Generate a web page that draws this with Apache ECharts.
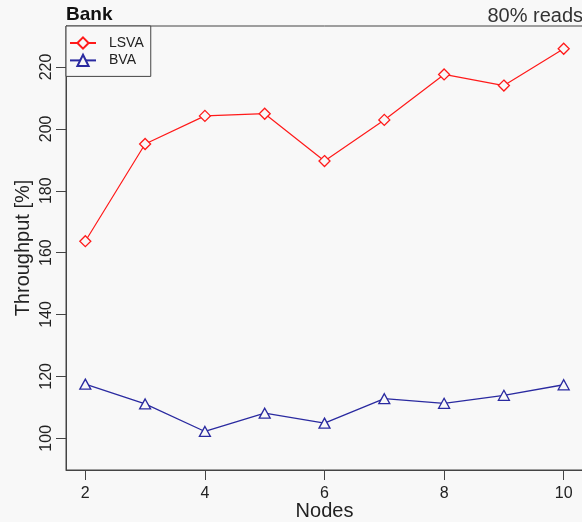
<!DOCTYPE html>
<html>
<head>
<meta charset="utf-8">
<script src="https://cdn.jsdelivr.net/npm/echarts@6/dist/echarts.min.js"></script>
<style>
  html, body { margin: 0; padding: 0; background: #f8f8f8; }
  #chart { width: 582px; height: 522px; }
</style>
</head>
<body>
<div id="chart"></div>
<script>
// Throughput relative to baseline, Bank benchmark, 80% reads
const nodes = [2, 3, 4, 5, 6, 7, 8, 9, 10];
const lsva = [163.7, 195.1, 204.2, 204.9, 189.6, 202.9, 217.6, 214.0, 225.9];
const bva = [117.5, 111.1, 102.2, 108.1, 104.9, 112.8, 111.3, 113.9, 117.3];
const xTicks = [2, 4, 6, 8, 10];
const yTicks = [100, 120, 140, 160, 180, 200, 220];

const FONT = "'Liberation Sans', Arial, Helvetica, sans-serif";
const RED = '#ff1a1a';
const BLUE = '#2a2aa0';
const BG = '#f8f8f8';

const pairs = (ys) => nodes.map((x, i) => [x, ys[i]]);

const chart = echarts.init(document.getElementById('chart'), null, { renderer: 'canvas' });
chart.setOption({
  backgroundColor: BG,
  animation: false,
  textStyle: { fontFamily: FONT },
  title: [
    { text: 'Bank', left: 66, top: 5, padding: 0,
      textStyle: { fontFamily: FONT, fontSize: 19, fontWeight: 'bold', color: '#111' } },
    { text: '80% reads', right: -1, top: 6, padding: 0,
      textStyle: { fontFamily: FONT, fontSize: 20, fontWeight: 'normal', color: '#333' } }
  ],
  legend: {
    orient: 'vertical',
    left: 66, top: 26,
    padding: [10, 7, 9, 3],
    itemWidth: 26, itemHeight: 14, itemGap: 3.4,
    backgroundColor: BG,
    borderColor: '#444', borderWidth: 1, borderRadius: 0,
    textStyle: { fontFamily: FONT, fontSize: 14, color: '#222', lineHeight: 14, padding: [0, 0, 0, 8] },
    data: ['LSVA', 'BVA']
  },
  grid: {
    left: 66, top: 26, width: 517, height: 444,
    outerBoundsMode: 'none', containLabel: false,
    show: true, borderColor: '#444', borderWidth: 1, backgroundColor: 'transparent'
  },
  xAxis: {
    type: 'value', min: 1.677, max: 10.323,
    name: 'Nodes', nameLocation: 'middle', nameGap: 31, nameMoveOverlap: false,
    nameTextStyle: { fontFamily: FONT, fontSize: 20, color: '#222' },
    axisLine: { show: true, lineStyle: { color: '#444', width: 1 } },
    axisTick: { show: true, length: 10, customValues: xTicks, lineStyle: { color: '#444' } },
    axisLabel: { customValues: xTicks, margin: 16, fontFamily: FONT, fontSize: 16, color: '#222' },
    splitLine: { show: false }
  },
  yAxis: {
    type: 'value', min: 89.75, max: 233.25,
    name: 'Throughput [%]', nameLocation: 'middle', nameGap: 33, nameRotate: 90, nameMoveOverlap: false,
    nameTextStyle: { fontFamily: FONT, fontSize: 20, color: '#222' },
    axisLine: { show: true, lineStyle: { color: '#444', width: 1 } },
    axisTick: { show: true, length: 10, customValues: yTicks, lineStyle: { color: '#444' } },
    axisLabel: { customValues: yTicks, rotate: 90, margin: 11, fontFamily: FONT, fontSize: 16, color: '#222' },
    splitLine: { show: false }
  },
  series: [
    {
      name: 'LSVA', type: 'line', data: pairs(lsva),
      color: RED,
      symbol: 'diamond', symbolSize: 11, showAllSymbol: true,
      lineStyle: { color: RED, width: 1.2 },
      itemStyle: { color: BG, borderColor: RED, borderWidth: 1.3 },
      z: 3
    },
    {
      name: 'BVA', type: 'line', data: pairs(bva),
      color: BLUE,
      symbol: 'triangle', symbolSize: [11, 10], showAllSymbol: true,
      lineStyle: { color: BLUE, width: 1.3 },
      itemStyle: { color: BG, borderColor: BLUE, borderWidth: 1.3 },
      z: 3
    }
  ]
});
</script>
</body>
</html>
